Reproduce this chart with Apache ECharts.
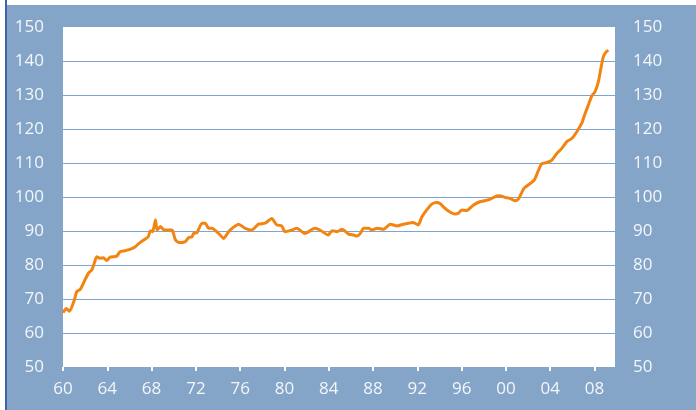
<!DOCTYPE html>
<html>
<head>
<meta charset="utf-8">
<script src="https://cdn.jsdelivr.net/npm/echarts@6/dist/echarts.min.js"></script>
<style>
  html, body { margin: 0; padding: 0; background: #ffffff; }
  #chart { width: 696px; height: 410px; }
</style>
</head>
<body>
<div id="chart"></div>
<script>
// index level (x = year, y = value)
const years = [
  1960.0, 1960.3, 1960.6, 1961.0, 1961.25, 1961.55, 1961.85, 1962.3, 1962.6, 1962.8,
  1963.05, 1963.35, 1963.65, 1963.95, 1964.25, 1964.85, 1965.15, 1965.6, 1966.05, 1966.5,
  1966.95, 1967.4, 1967.7, 1967.9, 1968.1, 1968.35, 1968.5, 1968.8, 1969.15, 1969.85,
  1970.0, 1970.15, 1970.45, 1971.05, 1971.35, 1971.65, 1971.8, 1972.1, 1972.55, 1972.85,
  1973.15, 1973.45, 1974.2, 1974.5, 1974.95, 1975.35, 1975.85, 1976.45, 1977.05, 1977.65,
  1978.25, 1978.85, 1979.3, 1979.75, 1980.05, 1980.5, 1981.1, 1981.85, 1982.75, 1983.2,
  1983.95, 1984.3, 1984.75, 1985.2, 1985.8, 1986.25, 1986.55, 1986.85, 1987.15, 1987.6,
  1987.9, 1988.35, 1988.95, 1989.55, 1990.15, 1990.75, 1991.2, 1991.6, 1991.95, 1992.1,
  1992.4, 1992.85, 1993.3, 1993.75, 1994.05, 1994.35, 1994.8, 1995.4, 1995.7, 1996.0,
  1996.45, 1997.05, 1997.65, 1998.1, 1998.55, 1999.15, 1999.45, 1999.9, 2000.35, 2000.8,
  2001.1, 2001.65, 2002.3, 2002.6, 2003.2, 2003.65, 2004.1, 2004.6, 2005.05, 2005.5,
  2005.95, 2006.4, 2006.85, 2007.1, 2007.45, 2007.75, 2008.05, 2008.35, 2008.55, 2008.8,
  2009.05, 2009.25
]
const values = [
  66.0, 67.2, 66.4, 69.5, 72.2, 72.8, 74.7, 77.6, 78.5, 80.3,
  82.4, 82.0, 82.1, 81.3, 82.3, 82.6, 83.9, 84.2, 84.6, 85.3,
  86.6, 87.6, 88.3, 90.1, 89.8, 93.2, 90.3, 91.3, 90.3, 90.3,
  89.0, 87.4, 86.6, 86.9, 88.1, 88.3, 89.3, 89.5, 92.3, 92.3,
  90.8, 90.8, 88.8, 87.8, 89.8, 91.0, 92.0, 90.8, 90.3, 92.0,
  92.3, 93.7, 91.8, 91.5, 89.8, 90.1, 90.8, 89.3, 90.8, 90.3,
  88.8, 90.1, 89.8, 90.5, 89.1, 88.8, 88.5, 89.3, 90.8, 90.8,
  90.3, 90.8, 90.5, 92.0, 91.5, 92.0, 92.3, 92.5, 92.0, 91.8,
  94.1, 96.2, 97.9, 98.4, 98.1, 97.1, 95.9, 95.0, 95.2, 96.2,
  96.0, 97.6, 98.6, 98.9, 99.3, 100.3, 100.4, 99.9, 99.6, 98.9,
  99.3, 102.6, 104.2, 105.2, 109.7, 110.1, 110.7, 112.8, 114.3, 116.3,
  117.2, 119.2, 121.7, 124.1, 127.1, 129.7, 131.0, 133.9, 137.4, 141.3,
  142.7, 143.2
]
const xTicks = [1960, 1964, 1968, 1972, 1976, 1980, 1984, 1988, 1992, 1996, 2000, 2004, 2008]

const bg = '#84a5c7'
const labelColor = '#f3f6fa'
const font = 'Open Sans'

const myChart = echarts.init(document.getElementById('chart'))

const yAxisBase = {
  type: 'value',
  min: 50,
  max: 150,
  interval: 10,
  axisLine: { show: false },
  axisTick: { show: false },
}

const option = {
  backgroundColor: bg,
  animation: false,
  graphic: [
    { type: 'rect', shape: { x: 0, y: 0, width: 696, height: 5 }, style: { fill: '#ffffff' }, silent: true },
    { type: 'rect', shape: { x: 0, y: 0, width: 5, height: 410 }, style: { fill: '#ffffff' }, silent: true },
    { type: 'rect', shape: { x: 5, y: 0, width: 2, height: 410 }, style: { fill: '#3f63ac' }, silent: true },
  ],
  grid: {
    left: 63,
    top: 27,
    right: 81,
    bottom: 43,
    show: true,
    backgroundColor: '#ffffff',
    borderWidth: 0,
  },
  xAxis: {
    type: 'value',
    min: 1960,
    max: 2009.85,
    axisLine: { show: false },
    splitLine: { show: false },
    axisTick: {
      show: true,
      customValues: xTicks,
      length: 4,
      lineStyle: { color: '#ffffff', width: 2 },
    },
    axisLabel: {
      customValues: xTicks,
      margin: 14,
      color: labelColor,
      fontFamily: font,
      fontSize: 17,
      formatter: (v) => String(v).slice(2),
    },
  },
  yAxis: [
    {
      ...yAxisBase,
      position: 'left',
      splitLine: {
        show: true,
        showMinLine: false,
        showMaxLine: false,
        lineStyle: { color: '#7ea5d0', width: 1 },
      },
      axisLabel: {
        margin: 19,
        color: labelColor,
        fontFamily: font,
        fontSize: 17,
      },
    },
    {
      ...yAxisBase,
      position: 'right',
      splitLine: { show: false },
      axisLabel: {
        margin: 18,
        color: labelColor,
        fontFamily: font,
        fontSize: 17,
      },
    },
  ],
  series: [
    {
      type: 'line',
      data: years.map((y, i) => [y, values[i]]),
      symbol: 'none',
      smooth: 0.2,
      lineStyle: { color: '#f38410', width: 3 },
    },
  ],
}

myChart.setOption(option)
</script>
</body>
</html>
